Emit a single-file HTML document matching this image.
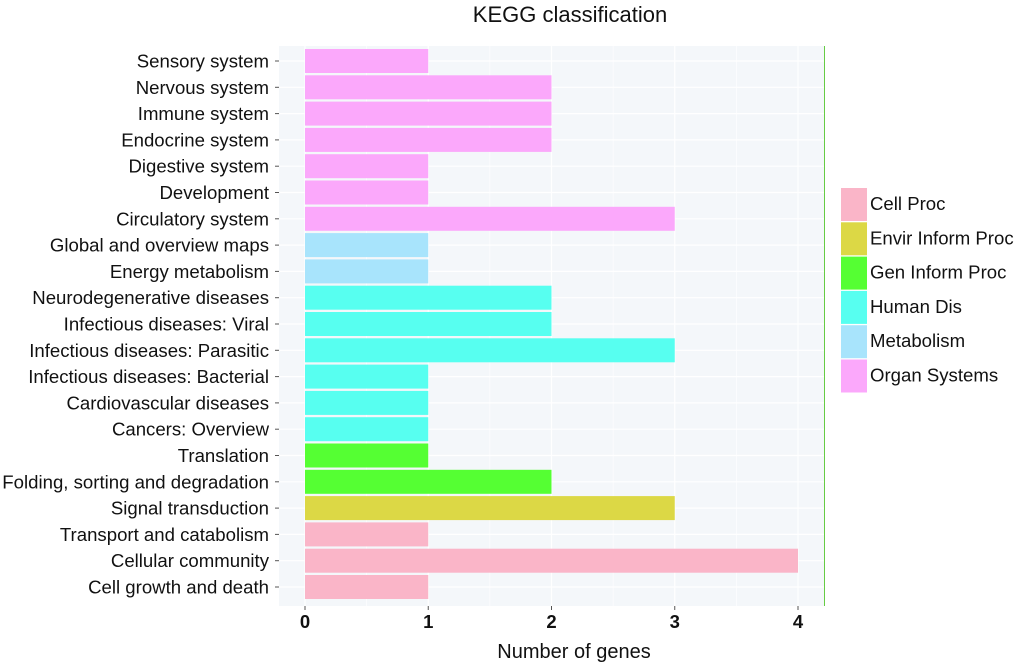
<!DOCTYPE html>
<html><head><meta charset="utf-8"><style>
body{margin:0;background:#fff;}
svg text{font-family:"Liberation Sans",Arial,sans-serif;}
</style></head><body>
<svg id="chart" width="1020" height="666" xmlns="http://www.w3.org/2000/svg">
<text x="570" y="22" font-size="22" text-anchor="middle" fill="#111">KEGG classification</text>
<rect x="279" y="46" width="546" height="560" fill="#f4f7fa"/>
<g id="grid"></g><g id="bars"></g><g id="yaxis"></g><g id="xaxis"></g>
<line x1="824.5" y1="46" x2="824.5" y2="606" stroke="#66cc44" stroke-width="1"/>
<text x="574" y="658" font-size="20" text-anchor="middle" fill="#111">Number of genes</text>
<g id="legend"></g>
</svg>
<script>
const categories=["Sensory system","Nervous system","Immune system","Endocrine system","Digestive system","Development","Circulatory system","Global and overview maps","Energy metabolism","Neurodegenerative diseases","Infectious diseases: Viral","Infectious diseases: Parasitic","Infectious diseases: Bacterial","Cardiovascular diseases","Cancers: Overview","Translation","Folding, sorting and degradation","Signal transduction","Transport and catabolism","Cellular community","Cell growth and death"];
const values=[1,2,2,2,1,1,3,1,1,2,2,3,1,1,1,1,2,3,1,4,1];
const groups=["Organ Systems","Organ Systems","Organ Systems","Organ Systems","Organ Systems","Organ Systems","Organ Systems","Metabolism","Metabolism","Human Dis","Human Dis","Human Dis","Human Dis","Human Dis","Human Dis","Gen Inform Proc","Gen Inform Proc","Envir Inform Proc","Cell Proc","Cell Proc","Cell Proc"];
const legendNames=["Cell Proc","Envir Inform Proc","Gen Inform Proc","Human Dis","Metabolism","Organ Systems"];
const legendColors=["#fab5c8","#dcd845","#55ff33","#57fff0","#a8e4fc","#fba8fb"];
const xTicks=[0,1,2,3,4];
const NS="http://www.w3.org/2000/svg";
const x0=305,x4=798,firstC=61,lastC=587;
const band=(lastC-firstC)/(categories.length-1);
const xs=v=>x0+(x4-x0)*v/4;
const yc=i=>firstC+band*i;
function mk(tag,attrs,parent){const e=document.createElementNS(NS,tag);for(const k in attrs)e.setAttribute(k,attrs[k]);parent.appendChild(e);return e;}
const grid=document.getElementById('grid'),bars=document.getElementById('bars'),ya=document.getElementById('yaxis'),xa=document.getElementById('xaxis'),lg=document.getElementById('legend');
for(let v=0;v<=4;v+=0.5){const l=mk('line',{x1:xs(v),x2:xs(v),y1:46,y2:606,stroke:'#fff','stroke-width':v%1?0.6:1.2},grid);

}
categories.forEach((c,i)=>{
 const g=mk('line',{x1:279,x2:825,y1:yc(i),y2:yc(i),stroke:'#fff','stroke-width':1.2},grid);
 
 
 const col=legendColors[legendNames.indexOf(groups[i])];
 const r=mk('rect',{x:xs(0),y:yc(i)-12,width:xs(values[i])-xs(0),height:24,fill:col},bars);
 
 
 const t=mk('text',{x:269,y:yc(i)+6.5,'font-size':18.6,'text-anchor':'end',fill:'#111'},ya);t.textContent=c;
 
 
 const tk=mk('line',{x1:275,x2:279,y1:yc(i),y2:yc(i),stroke:'#555'},ya);
 
 
});
xTicks.forEach(v=>{
 const tk=mk('line',{x1:xs(v),x2:xs(v),y1:606,y2:610,stroke:'#555'},xa);
 
 
 const t=mk('text',{x:xs(v),y:628,'font-size':18.5,'font-weight':'bold','text-anchor':'middle',fill:'#111'},xa);t.textContent=v;
 
 
});
legendNames.forEach((n,i)=>{
 const y=188+i*34.3;
 const r=mk('rect',{x:841,y:y,width:26,height:33,fill:legendColors[i]},lg);
 
 
 const t=mk('text',{x:870,y:y+22,'font-size':18.6,fill:'#111'},lg);t.textContent=n;
 
 
});
</script>
</body></html>
